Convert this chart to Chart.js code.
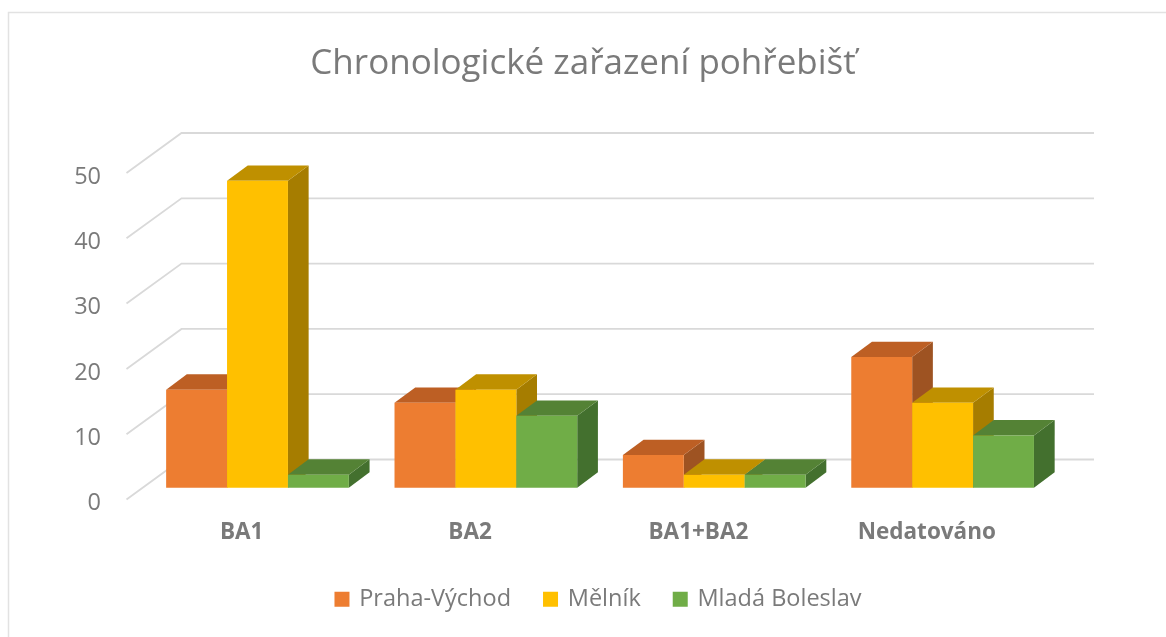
<!DOCTYPE html>
<html lang="cs">
<head>
<meta charset="utf-8">
<style>
html,body{margin:0;padding:0;background:#fff}
#wrap{position:relative;width:1166px;height:637px}
</style>
<script src="https://cdn.jsdelivr.net/npm/chart.js@4/dist/chart.umd.min.js"></script>
</head>
<body>
<div id="wrap"><canvas id="c" width="1166" height="637"></canvas></div>
<script>
const categories = ['BA1', 'BA2', 'BA1+BA2', 'Nedatováno'];
const prahaVychod = [15, 13, 5, 20];
const melnik = [47, 15, 2, 13];
const mladaBoleslav = [2, 11, 2, 8];
const yTicks = [0, 10, 20, 30, 40, 50];
const chartTitle = 'Chronologické zařazení pohřebišť';

const FONT = '"Open Sans", "Noto Sans", sans-serif';
const GREY = '#7a7a7a';
// projected depth of the 3D box
const BAR_DX = 20.7, BAR_DY = -15.4;     // bar depth
const GAP_DX = 15.8, GAP_DY = -11.8;     // floor gap in front of the bars
const WALL_DX = 54, WALL_DY = -40;       // axis plane to back wall
const WALL_RIGHT = 1094;
const LEGEND_SHIFT_X = 16, LEGEND_SHIFT_Y = -16;

function poly(ctx, pts, fill) {
  ctx.beginPath();
  pts.forEach((p, i) => i ? ctx.lineTo(p[0], p[1]) : ctx.moveTo(p[0], p[1]));
  ctx.closePath();
  ctx.fillStyle = fill;
  ctx.fill();
}

const box3d = {
  id: 'box3d',
  afterLayout(chart) {
    const lg = chart.legend;
    lg.left += LEGEND_SHIFT_X;
    lg.right += LEGEND_SHIFT_X;
    lg.top += LEGEND_SHIFT_Y;
    lg.bottom += LEGEND_SHIFT_Y;
  },
  beforeDraw(chart) {
    const ctx = chart.ctx;
    ctx.save();
    ctx.strokeStyle = '#e2e2e2';
    ctx.lineWidth = 1.5;
    ctx.beginPath();
    ctx.moveTo(8.5, 637);
    ctx.lineTo(8.5, 12.5);
    ctx.lineTo(1166, 12.5);
    ctx.stroke();
    ctx.restore();
  },
  beforeDatasetsDraw(chart) {
    const ctx = chart.ctx, y = chart.scales.y, left = chart.chartArea.left;
    ctx.save();
    ctx.strokeStyle = '#d9d9d9';
    ctx.lineWidth = 1.8;
    y.ticks.forEach(t => {
      const py = y.getPixelForValue(t.value);
      ctx.beginPath();
      ctx.moveTo(left - 1, py);
      ctx.lineTo(left + WALL_DX, py + WALL_DY);
      ctx.lineTo(WALL_RIGHT, py + WALL_DY);
      ctx.stroke();
    });
    ctx.restore();
    // Draw the boxes series by series, left to right, so later faces cover earlier sides.
    ctx.save();
    ctx.translate(GAP_DX, GAP_DY);
    chart.data.datasets.forEach((ds, i) => {
      chart.getDatasetMeta(i).data.forEach(bar => {
        const p = bar.getProps(['x', 'y', 'base', 'width'], true);
        const l = p.x - p.width / 2, r = p.x + p.width / 2;
        poly(ctx, [[r, p.y], [r + BAR_DX, p.y + BAR_DY], [r + BAR_DX, p.base + BAR_DY], [r, p.base]], ds.sideColor);
        poly(ctx, [[l, p.y], [l + BAR_DX, p.y + BAR_DY], [r + BAR_DX, p.y + BAR_DY], [r, p.y]], ds.topColor);
        bar.draw(ctx);
      });
    });
    ctx.restore();
  },
  beforeDatasetDraw() {
    return false;
  }
};

new Chart(document.getElementById('c'), {
  type: 'bar',
  data: {
    labels: categories,
    datasets: [
      { label: 'Praha-Východ', data: prahaVychod, backgroundColor: '#ED7D31', sideColor: '#9E5322', topColor: '#BD5F24' },
      { label: 'Mělník', data: melnik, backgroundColor: '#FFC000', sideColor: '#A67D00', topColor: '#BF9000' },
      { label: 'Mladá Boleslav', data: mladaBoleslav, backgroundColor: '#70AD47', sideColor: '#43702E', topColor: '#548235' }
    ]
  },
  plugins: [box3d],
  options: {
    responsive: false,
    animation: false,
    events: [],
    layout: { padding: 0 },
    datasets: { bar: { categoryPercentage: 0.8, barPercentage: 1, borderWidth: 0 } },
    plugins: {
      tooltip: { enabled: false },
      title: {
        display: true,
        text: chartTitle,
        color: GREY,
        font: { family: FONT, size: 35, weight: '400' },
        padding: { top: 43, bottom: 88 }
      },
      legend: {
        position: 'bottom',
        maxHeight: 68,
        labels: {
          color: GREY,
          usePointStyle: true,
          pointStyle: 'rect',
          boxWidth: 11,
          boxHeight: 15,
          padding: 34,
          font: { family: FONT, size: 23.5 }
        }
      }
    },
    scales: {
      x: {
        afterFit(s) { s.height = 70; },
        grid: { display: false, drawTicks: false },
        border: { display: false },
        ticks: { color: GREY, padding: 20, maxRotation: 0, font: { family: FONT, size: 22.5, weight: '700' } }
      },
      y: {
        min: 0,
        max: 50,
        afterFit(s) { s.width = 127.5; },
        afterBuildTicks(s) { s.ticks = yTicks.map(v => ({ value: v })); },
        grid: { display: false, drawTicks: false },
        border: { display: false },
        ticks: { color: GREY, padding: 26.5, labelOffset: 4, font: { family: FONT, size: 23.5 } }
      },
      rightSpace: {
        type: 'linear',
        position: 'right',
        afterFit(s) { s.width = 125; },
        grid: { display: false, drawTicks: false },
        border: { display: false },
        ticks: { display: false }
      }
    }
  }
});
</script>
</body>
</html>
